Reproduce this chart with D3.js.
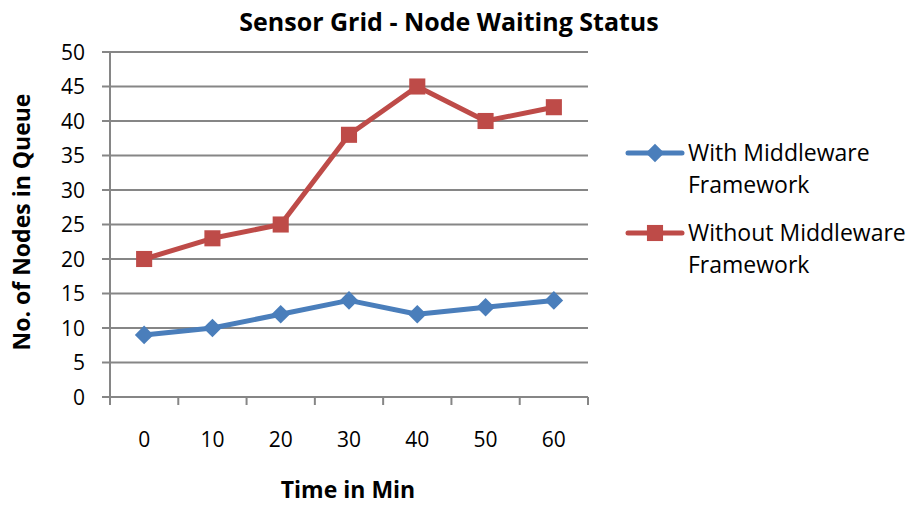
<!DOCTYPE html>
<html>
<head>
<meta charset="utf-8">
<script src="https://cdn.jsdelivr.net/npm/d3@7"></script>
<style>
  body { margin: 0; background: #fff; }
  text { font-family: "Open Sans", "Noto Sans", sans-serif; fill: #000; }
</style>
</head>
<body>
<svg id="chart" width="919" height="505"></svg>
<script>
// Data
const times = ["0", "10", "20", "30", "40", "50", "60"];
const withMiddleware = [9, 10, 12, 14, 12, 13, 14];
const withoutMiddleware = [20, 23, 25, 38, 45, 40, 42];
const yTicks = [0, 5, 10, 15, 20, 25, 30, 35, 40, 45, 50];
const seriesNames = [["With Middleware", "Framework"], ["Without Middleware", "Framework"]];
const seriesColors = ["#4a7ebb", "#be4b48"];

const svg = d3.select("#chart");
const plot = { left: 110, right: 588, top: 52, bottom: 397 };

const x = d3.scaleBand().domain(times).range([plot.left, plot.right]);
const y = d3.scaleLinear().domain([0, 50]).range([plot.bottom, plot.top]);

// Gridlines + y tick marks
svg.append("g").selectAll("line").data(yTicks).join("line")
    .attr("x1", plot.left - 8).attr("x2", plot.right)
    .attr("y1", d => y(d)).attr("y2", d => y(d))
    .attr("stroke", "#868686").attr("stroke-width", 2);

// y axis line
svg.append("line").attr("x1", plot.left).attr("x2", plot.left)
    .attr("y1", plot.top).attr("y2", plot.bottom)
    .attr("stroke", "#868686").attr("stroke-width", 2);

// x tick marks at band boundaries
const xBounds = times.map(t => x(t)).concat([plot.right]);
svg.append("g").selectAll("line").data(xBounds).join("line")
    .attr("x1", d => d).attr("x2", d => d)
    .attr("y1", plot.bottom).attr("y2", plot.bottom + 8)
    .attr("stroke", "#868686").attr("stroke-width", 2);

// y tick labels
svg.append("g").selectAll("text").data(yTicks).join("text")
    .attr("x", 85).attr("y", d => y(d)).attr("dy", "0.36em")
    .attr("text-anchor", "end").style("font-size", "21px").text(d => d);

// x tick labels
svg.append("g").selectAll("text").data(times).join("text")
    .attr("x", d => x(d) + x.bandwidth() / 2).attr("y", 439).attr("dy", "0.36em")
    .attr("text-anchor", "middle").style("font-size", "21px").text(d => d);

// Title and axis titles
svg.append("text").attr("x", 449).attr("y", 22).attr("dy", "0.36em").attr("text-anchor", "middle")
    .style("font-size", "25px").style("font-weight", "bold").text("Sensor Grid - Node Waiting Status");
svg.append("text").attr("x", 348).attr("y", 490).attr("dy", "0.36em").attr("text-anchor", "middle")
    .style("font-size", "23px").style("font-weight", "bold").text("Time in Min");
svg.append("text").attr("transform", "translate(22,222) rotate(-90)").attr("dy", "0.36em").attr("text-anchor", "middle")
    .style("font-size", "23px").style("font-weight", "bold").text("No. of Nodes in Queue");

// Lines
const line = d3.line().x((d, i) => x(times[i]) + x.bandwidth() / 2).y(d => y(d));
const diamond = d3.symbol().type(d3.symbolDiamond2).size(220);
const square = d3.symbol().type(d3.symbolSquare2).size(330);

[withMiddleware, withoutMiddleware].forEach((vals, s) => {
    svg.append("path").datum(vals).attr("d", line)
        .attr("fill", "none").attr("stroke", seriesColors[s]).attr("stroke-width", 5)
        .attr("stroke-linejoin", "round");
    svg.append("g").selectAll("path").data(vals).join("path")
        .attr("transform", (d, i) => `translate(${x(times[i]) + x.bandwidth() / 2},${y(d)})`)
        .attr("d", s === 0 ? diamond : square)
        .attr("fill", seriesColors[s]);
});

// Legend
const legendY = [153, 233];
seriesNames.forEach((lines, s) => {
    const g = svg.append("g");
    g.append("line").attr("x1", 628).attr("x2", 682).attr("y1", legendY[s]).attr("y2", legendY[s])
        .attr("stroke", seriesColors[s]).attr("stroke-width", 5).attr("stroke-linecap", "round");
    g.append("path").attr("transform", `translate(655,${legendY[s]})`)
        .attr("d", s === 0 ? diamond : square).attr("fill", seriesColors[s]);
    lines.forEach((t, j) => {
        g.append("text").attr("x", 688).attr("y", legendY[s] + j * 32).attr("dy", "0.36em")
            .style("font-size", "23px").text(t);
    });
});
</script>
</body>
</html>
